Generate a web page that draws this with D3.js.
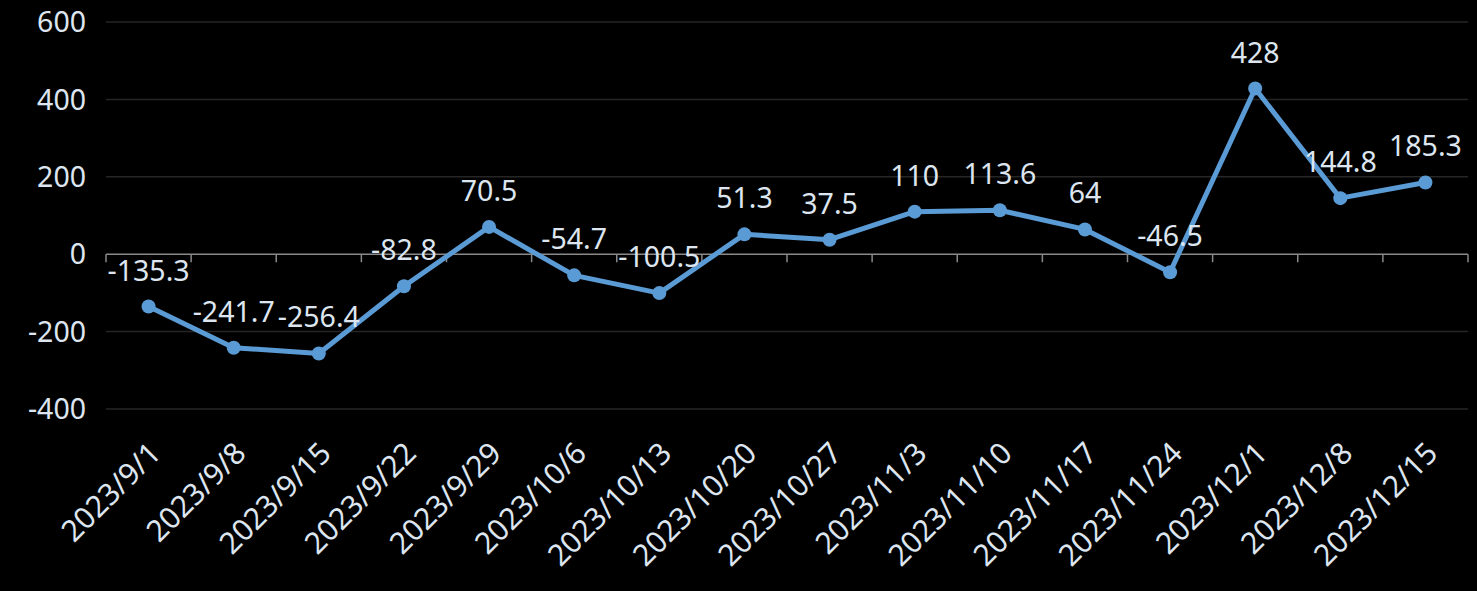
<!DOCTYPE html>
<html>
<head>
<meta charset="utf-8">
<script src="https://cdn.jsdelivr.net/npm/d3@7"></script>
<style>
  html, body { margin: 0; padding: 0; background: #000; }
  svg { display: block; }
  text { font-family: "Noto Sans", "Open Sans", sans-serif; fill: #dde6f0; }
</style>
</head>
<body>
<div id="chart"></div>
<script>
// weekly values
const dates = ['2023/9/1', '2023/9/8', '2023/9/15', '2023/9/22', '2023/9/29', '2023/10/6',
  '2023/10/13', '2023/10/20', '2023/10/27', '2023/11/3', '2023/11/10', '2023/11/17',
  '2023/11/24', '2023/12/1', '2023/12/8', '2023/12/15'];
const values = [-135.3, -241.7, -256.4, -82.8, 70.5, -54.7, -100.5, 51.3, 37.5, 110,
  113.6, 64, -46.5, 428, 144.8, 185.3];
const yTicks = [-400, -200, 0, 200, 400, 600];

const width = 1477, height = 591;
const margin = { top: 22, right: 9, bottom: 182, left: 106 };

const svg = d3.select('#chart').append('svg')
  .attr('width', width)
  .attr('height', height);

const x = d3.scaleBand()
  .domain(dates)
  .range([margin.left, width - margin.right]);

const y = d3.scaleLinear()
  .domain([-400, 600])
  .range([height - margin.bottom, margin.top]);

const cx = d => x(d) + x.bandwidth() / 2;

// gridlines
svg.append('g')
  .selectAll('line')
  .data(yTicks.filter(t => t !== 0))
  .enter()
  .append('line')
  .attr('x1', margin.left)
  .attr('x2', width - margin.right)
  .attr('y1', d => y(d))
  .attr('y2', d => y(d))
  .attr('stroke', '#262626')
  .attr('stroke-width', 1.5);

// y axis labels
svg.append('g')
  .selectAll('text')
  .data(yTicks)
  .enter()
  .append('text')
  .attr('x', margin.left - 20)
  .attr('y', d => y(d))
  .attr('dy', '0.36em')
  .attr('text-anchor', 'end')
  .attr('font-size', 28.5)
  .text(d => d);

// zero axis with outward ticks at category boundaries
const axis = svg.append('g');
axis.append('line')
  .attr('x1', margin.left)
  .attr('x2', width - margin.right)
  .attr('y1', y(0))
  .attr('y2', y(0))
  .attr('stroke', '#898989')
  .attr('stroke-width', 1.5);
const bounds = dates.map(d => x(d)).concat([x.range()[1]]);
axis.selectAll('.tick')
  .data(bounds)
  .enter()
  .append('line')
  .attr('x1', d => d)
  .attr('x2', d => d)
  .attr('y1', y(0))
  .attr('y2', y(0) + 8)
  .attr('stroke', '#898989')
  .attr('stroke-width', 1.5);

// x labels, rotated
svg.append('g')
  .selectAll('text')
  .data(dates)
  .enter()
  .append('text')
  .attr('transform', d => `translate(${cx(d) + 14},${y(-400) + 46}) rotate(-45)`)
  .attr('text-anchor', 'end')
  .attr('font-size', 30)
  .text(d => d);

// line + markers
const line = d3.line()
  .x((d, i) => cx(dates[i]))
  .y(d => y(d));

svg.append('path')
  .datum(values)
  .attr('d', line)
  .attr('fill', 'none')
  .attr('stroke', '#5b9bd5')
  .attr('stroke-width', 5)
  .attr('stroke-linejoin', 'round');

svg.append('g')
  .selectAll('circle')
  .data(values)
  .enter()
  .append('circle')
  .attr('cx', (d, i) => cx(dates[i]))
  .attr('cy', d => y(d))
  .attr('r', 7)
  .attr('fill', '#5b9bd5');

// data labels
svg.append('g')
  .selectAll('text')
  .data(values)
  .enter()
  .append('text')
  .attr('x', (d, i) => cx(dates[i]))
  .attr('y', d => y(d) - 26)
  .attr('text-anchor', 'middle')
  .attr('font-size', 28.5)
  .text(d => d);
</script>
</body>
</html>
